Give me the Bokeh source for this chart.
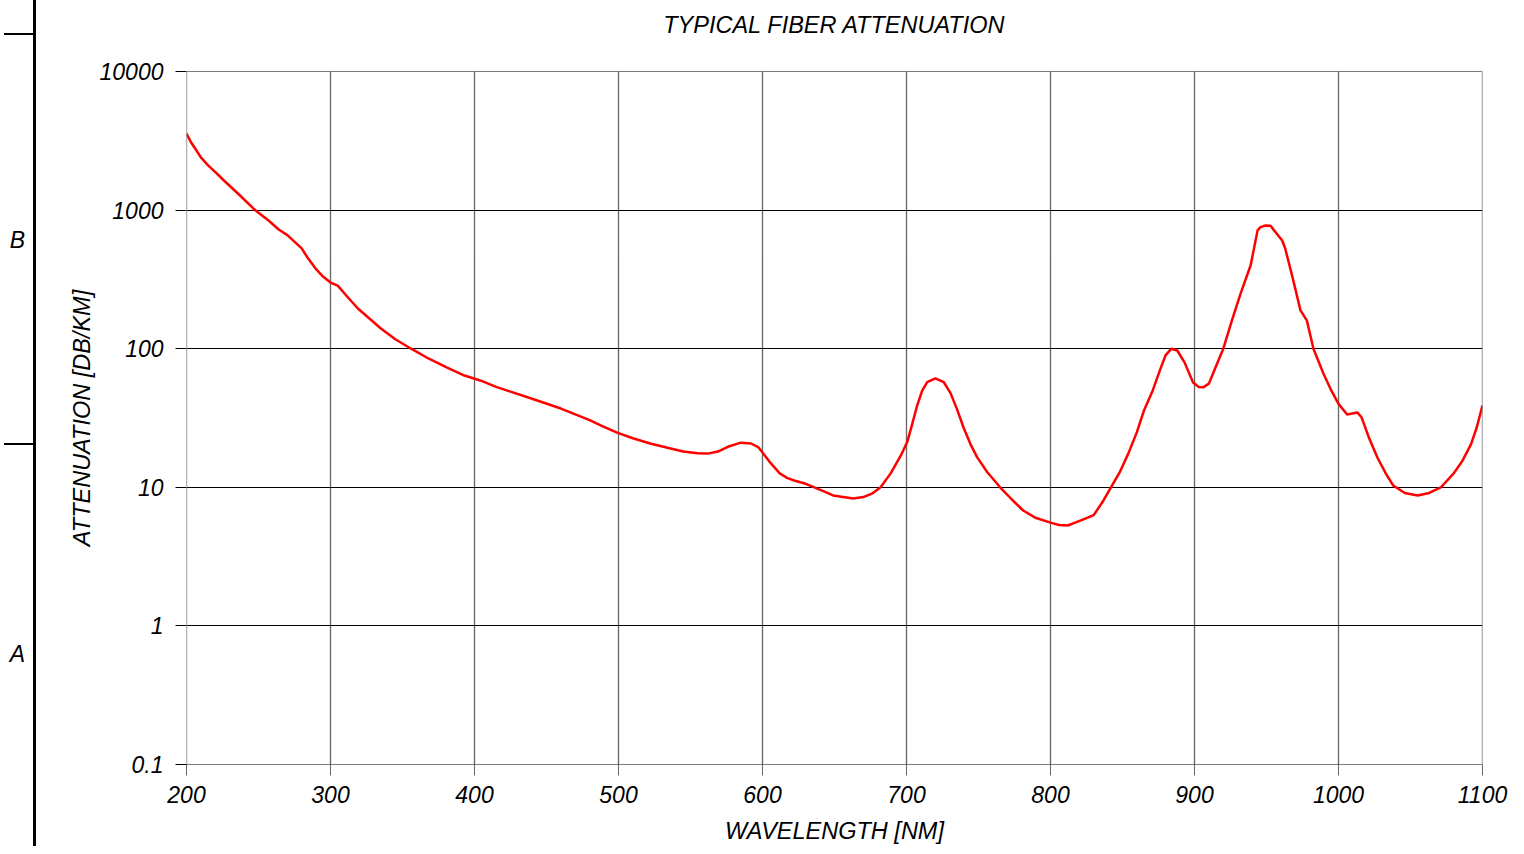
from bokeh.plotting import figure
from bokeh.layouts import row
from bokeh.models import FixedTicker, CustomJSTickFormatter, Range1d, Span, Div, Title, LinearAxis
from bokeh.embed import file_html
from bokeh.resources import INLINE

wavelength = [200, 203, 206, 210, 215, 220, 226, 237, 248, 257, 264, 270, 274, 280, 284, 290, 295,
              300, 305, 312, 319, 327, 335, 345, 356, 368, 381, 393, 404, 415, 425, 440, 460, 480,
              488, 499, 510, 522, 534, 545, 555, 562, 569, 577, 585, 592, 597, 600, 606, 612, 617,
              622, 630, 636, 643, 649, 656, 663, 670, 676, 682, 689, 696, 700.5, 704, 707.4, 710.9,
              714.4, 720, 725.9, 730.5, 735, 739.6, 744.4, 749, 756, 765, 773, 781, 790, 800, 806,
              812, 818, 825, 830, 836, 842, 848, 854, 860, 865, 871, 876, 880, 884, 888, 893, 899,
              903, 906, 910, 915, 920, 926, 932, 939, 943.8, 945.8, 949.3, 952.8, 956.3, 960.9, 963,
              968, 973.6, 978, 982.6, 989.6, 995, 1000, 1006, 1013, 1016, 1021, 1027, 1033, 1038,
              1046, 1055, 1063, 1071, 1080, 1086, 1092, 1096, 1100]
attenuation = [3570, 3100, 2780, 2400, 2100, 1880, 1635, 1280, 993, 841, 725, 660, 604, 530, 455, 375,
               330, 300, 285, 235, 195, 165, 140, 117, 100, 85, 73, 64, 59, 53, 49, 43.5, 37, 30.5,
               27.9, 24.8, 22.6, 20.7, 19.3, 18.1, 17.6, 17.5, 18.1, 19.8, 21, 20.7, 19.5, 17.8, 14.8,
               12.6, 11.7, 11.2, 10.6, 10.0, 9.3, 8.73, 8.5, 8.3, 8.5, 9.0, 10.0, 12.6, 16.9, 21.2,
               28.7, 38.9, 49.9, 57.3, 61, 57.3, 48, 36.8, 27, 20.5, 16.5, 12.9, 10.0, 8.2, 6.8, 6.0,
               5.56, 5.35, 5.3, 5.6, 6.0, 6.3, 7.8, 10.0, 12.8, 17.5, 25, 36, 50, 70, 90, 100, 97,
               80, 57, 53, 52.6, 56, 75, 100, 160, 250, 400, 714, 753, 774, 770, 693, 604, 528, 330,
               189, 160, 100, 66, 50, 40, 33.5, 34.7, 32, 23, 16.4, 12.5, 10.3, 9.1, 8.73, 9.1, 9.97,
               12.6, 15.5, 20.4, 27, 39]

x_ticks = [200, 300, 400, 500, 600, 700, 800, 900, 1000, 1100]
y_ticks = [0.1, 1, 10, 100, 1000, 10000]

# drawing-sheet zone markers on the left edge
zone_letters = ["B", "A"]
zone_letter_y = [240, 654]
zone_tick_y = [34, 444]

FONT = "Liberation Sans"
H = 846
DECO_W = 40

# ---- left strip: drawing-sheet border with zone letters ----
parts = ['<div style="position:relative;width:%dpx;height:%dpx;overflow:visible;">' % (DECO_W, H)]
parts.append('<div style="position:absolute;left:33.4px;top:0;width:2.7px;height:%dpx;background:#000;"></div>' % H)
for ty in zone_tick_y:
    parts.append('<div style="position:absolute;left:4px;top:%.1fpx;width:31px;height:2.6px;background:#000;"></div>' % (ty - 1.3))
for letter, ly in zip(zone_letters, zone_letter_y):
    parts.append('<span style="position:absolute;left:17.5px;top:%.1fpx;transform:translate(-50%%,-50%%);'
                 'font-family:\'Liberation Sans\';font-style:italic;font-size:23px;line-height:23px;color:#000;">%s</span>'
                 % (ly, letter))
parts.append('</div>')
deco = Div(text="".join(parts), width=DECO_W, height=H, margin=0,
           styles={"overflow": "visible", "padding": "0"})

# ---- main chart ----
p = figure(width=1508 - DECO_W, height=H, y_axis_type="log", title=None,
           x_range=Range1d(200, 1100), y_range=Range1d(0.1, 10000),
           output_backend="svg", toolbar_location=None,
           min_border_left=186 - DECO_W, min_border_right=26, min_border_top=71, min_border_bottom=82)
p.margin = 0
p.outline_line_color = None

# spacer between frame and title: an invisible axis in the top panel
spacer = LinearAxis(ticker=FixedTicker(ticks=x_ticks), axis_line_color=None, major_tick_line_color=None,
                    minor_tick_line_color=None, major_tick_out=25, major_tick_in=0,
                    major_label_text_alpha=0)
p.add_layout(spacer, "above")
p.add_layout(Title(text="TYPICAL FIBER ATTENUATION", align="center", text_font=FONT,
                   text_font_style="italic", text_font_size="23.5px", text_color="black",
                   standoff=18), "above")

xa, ya = p.below[0], p.left[0]
xa.ticker = FixedTicker(ticks=x_ticks)
ya.ticker = FixedTicker(ticks=y_ticks)
ya.formatter = CustomJSTickFormatter(code="return tick >= 1 ? tick.toFixed(0) : tick.toString();")

for ax in (xa, ya):
    ax.axis_line_color = None
    ax.major_tick_in = 0
    ax.major_tick_out = 11
    ax.minor_tick_line_color = None
    ax.major_label_text_font = FONT
    ax.major_label_text_font_style = "italic"
    ax.major_label_text_font_size = "23px"
    ax.major_label_text_color = "black"
    ax.axis_label_text_font = FONT
    ax.axis_label_text_font_style = "italic"
    ax.axis_label_text_font_size = "23.5px"
    ax.axis_label_text_color = "black"

xa.major_label_standoff = 10
ya.major_label_standoff = 12
xa.major_tick_line_color = "#666666"
ya.major_tick_line_color = "black"
xa.axis_label = "WAVELENGTH [NM]"
ya.axis_label = "ATTENUATION [DB/KM]"
xa.axis_label_standoff = 12
ya.axis_label_standoff = 2

p.xgrid.grid_line_color = "#666666"
p.xgrid.grid_line_width = 1.3
p.xgrid.ticker = FixedTicker(ticks=x_ticks)
p.ygrid.grid_line_color = "black"
p.ygrid.grid_line_width = 1
p.ygrid.minor_grid_line_color = None

p.add_layout(Span(location=x_ticks[0], dimension="height", line_color="#666666", line_width=1.3))
p.add_layout(Span(location=x_ticks[-1], dimension="height", line_color="#666666", line_width=1.3))
p.add_layout(Span(location=y_ticks[0], dimension="width", line_color="black", line_width=1))
p.add_layout(Span(location=y_ticks[-1], dimension="width", line_color="black", line_width=1))

p.line(wavelength, attenuation, line_color="#ff0000", line_width=2.5, line_join="round")

layout = row(deco, p, spacing=0)
open("out.html", "w").write(file_html(layout, INLINE))
